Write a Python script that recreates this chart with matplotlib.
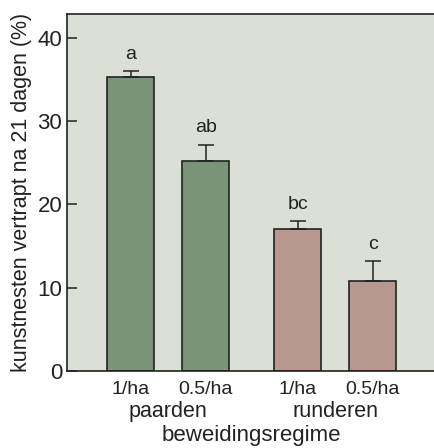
import numpy as np
import matplotlib
matplotlib.use("Agg")
import matplotlib.pyplot as plt

plt.rcParams.update({
    "font.family": ["Liberation Sans", "DejaVu Sans"],
    "font.size": 15,
})

# Data
regimes = ["1/ha", "0.5/ha", "1/ha", "0.5/ha"]
groups = ["paarden", "runderen"]
values = [35.3, 25.2, 17.1, 10.8]
errors = [0.7, 2.0, 0.9, 2.4]
letters = ["a", "ab", "bc", "c"]
positions = [0.0, 1.0, 2.23, 3.23]

GREEN = "#799479"
PINK = "#b7978f"
BG = "#dbe0d6"
INK = "#222222"
colors = [GREEN, GREEN, PINK, PINK]

fig = plt.figure(figsize=(4.35, 4.48), dpi=100)
ax = fig.add_axes([0.154, 0.172, 0.846, 0.797])
ax.set_facecolor(BG)

ax.bar(positions, values, width=0.63, color=colors, edgecolor=INK,
       linewidth=1.2, zorder=2)
ax.errorbar(positions, values, yerr=[np.zeros(len(errors)), errors],
            fmt="none", ecolor=INK, elinewidth=1.1, capsize=5.5,
            capthick=1.1, zorder=3)

for x, v, e, lab in zip(positions, values, errors, letters):
    ax.text(x, v + e + 1.0, lab, ha="center", va="bottom", fontsize=14,
            color=INK)

ax.set_xlim(-0.85, 4.06)
ax.set_ylim(0, 42.9)
ax.set_yticks([0, 10, 20, 30, 40])
ax.tick_params(axis="y", direction="in", length=7, width=1.1, labelsize=16,
               pad=3.5, colors=INK)
ax.set_xticks(positions)
ax.set_xticklabels(regimes, fontsize=14)
ax.tick_params(axis="x", length=0, pad=7, colors=INK)

for s in ["left", "top", "bottom"]:
    ax.spines[s].set_linewidth(1.2)
    ax.spines[s].set_color(INK)
ax.spines["right"].set_visible(False)

group_centers = [(positions[0] + positions[1]) / 2, (positions[2] + positions[3]) / 2]
for gx, g in zip(group_centers, groups):
    ax.text(gx, -0.114, g, transform=ax.get_xaxis_transform(), ha="center",
            va="center", fontsize=15.5, color=INK)

ax.text(0.5, -0.182, "beweidingsregime", transform=ax.transAxes,
        ha="center", va="center", fontsize=16, color=INK)
ax.set_ylabel("kunstnesten vertrapt na 21 dagen (%)", fontsize=15.5,
              labelpad=4, color=INK)

fig.savefig("out.png", dpi=100)
